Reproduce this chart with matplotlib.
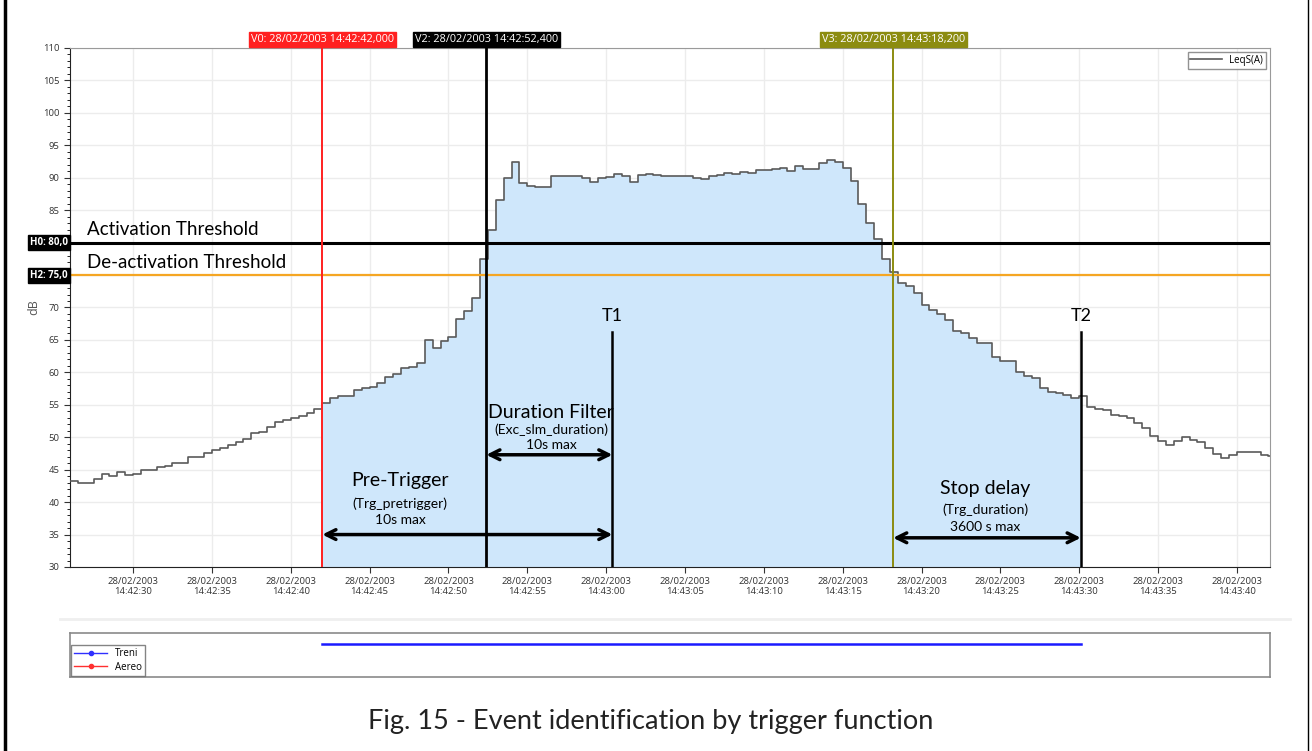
import numpy as np
import matplotlib

matplotlib.use('Agg')
import matplotlib.pyplot as plt
from matplotlib.transforms import blended_transform_factory
from matplotlib.lines import Line2D

plt.rcParams['font.family'] = ['Open Sans', 'DejaVu Sans']

# LeqS(A) samples, 0.5 s apart, starting 14:42:26.0 (seconds after 14:42:00)
t_start = 26.0
t_step = 0.5
leq = [
    43.2, 43.0, 43.0, 43.6, 44.3, 44.0, 44.6, 44.2, 44.4, 45.0, 45.0, 45.4,
    45.6, 46.0, 46.1, 46.9, 47.0, 47.5, 48.0, 48.3, 48.8, 49.3, 49.7, 50.6,
    50.8, 51.6, 52.3, 52.6, 52.9, 53.3, 53.8, 54.4, 55.3, 56.0,
    56.3, 56.4, 57.3, 57.6, 57.8, 58.3, 59.3, 59.8, 60.6, 60.8, 61.5, 65.0,
    63.8, 64.8, 65.4, 68.2, 69.5, 71.5, 77.5, 82.0, 86.5, 90.0, 92.5, 89.2,
    88.7, 88.5, 88.6, 90.2, 90.3, 90.2, 90.3, 90.0, 89.4, 90.0, 90.1, 90.6,
    90.3, 89.4, 90.5, 90.6, 90.4, 90.3, 90.2, 90.2, 90.2, 90.0, 89.8, 90.3,
    90.5, 90.7, 90.6, 90.9, 90.8, 91.2, 91.2, 91.4, 91.5, 91.0, 91.8, 91.3,
    91.4, 92.3, 92.8, 92.4, 91.5, 89.5, 86.0, 83.0, 80.5, 77.5,
    75.5, 73.8, 73.3, 72.2, 70.4, 69.6, 69.0, 68.1, 66.4, 66.0, 65.3, 64.5,
    64.5, 62.4, 61.8, 61.7, 60.1, 59.5, 59.1, 57.6, 56.9, 56.8, 56.5, 56.1,
    56.4, 54.7, 54.3, 54.2, 53.5, 53.2, 52.9, 52.2, 51.5, 50.2, 49.4, 48.8,
    49.4, 50.1, 49.5, 49.3, 48.3, 47.4, 46.8, 47.2, 47.8, 47.7, 47.8, 47.2,
    47.1,
]

# cursors (seconds after 14:42:00)
v0, v2, v3 = 42.0, 52.4, 78.2
t1, t2 = 60.4, 90.1
h0, h2 = 80.0, 75.0
x_range = (26.0, 102.1)
y_range = (30, 110)
x_ticks = [30, 35, 40, 45, 50, 55, 60, 65, 70, 75, 80, 85, 90, 95, 100]
y_ticks = [30, 35, 40, 45, 50, 55, 60, 65, 70, 75, 80, 85, 90, 95, 100, 105, 110]
treni_span = (v0, t2)
treni_level = 0.75

t = t_start + t_step * np.arange(len(leq))
leq = np.array(leq)


def clock(s):
    m = 42 + int(s) // 60
    return f"28/02/2003\n14:{m:02d}:{int(s) % 60:02d}"


fig = plt.figure(figsize=(13.12, 7.51), dpi=100)
ax = fig.add_axes([70 / 1312, 1 - 567 / 751, 1200 / 1312, 519 / 751])

# shaded event window
sel = (t >= v0) & (t < t2)
xf = np.append(t[sel], t2)
yf = np.append(leq[sel], leq[sel][-1])
ax.fill_between(xf, yf, y_range[0], step='post', color='#cfe7fb', lw=0, zorder=1)

ax.step(np.append(t, t[-1] + t_step), np.append(leq, leq[-1]), where='post',
        color='#5a5a5a', lw=1.2, zorder=3, label='LeqS(A)')

ax.set_xlim(*x_range)
ax.set_ylim(*y_range)
ax.set_xticks(x_ticks)
ax.set_xticklabels([clock(s) for s in x_ticks])
ax.set_yticks(y_ticks)
# threshold tags sit on top of the 75 / 80 labels
ax.set_yticklabels(['' if v in (h0, h2) else str(v) for v in y_ticks])
ax.set_yticks(np.arange(30, 111, 1), minor=True)
ax.tick_params(axis='both', labelsize=6.8, colors='#333333', length=4)
ax.tick_params(axis='y', which='minor', length=2)
ax.tick_params(axis='x', pad=3)
ax.grid(True, color='#ececec', lw=1, zorder=0)
ax.set_axisbelow(True)
for side in ['top', 'right']:
    ax.spines[side].set_color('#9a9a9a')
for side in ['left', 'bottom']:
    ax.spines[side].set_color('#222222')
ax.set_ylabel('dB', fontsize=9, color='#555555', labelpad=2)

# horizontal thresholds
ax.axhline(h0, color='black', lw=2.2, zorder=4)
ax.axhline(h2, color='#f5a623', lw=1.6, zorder=4)
ybox = blended_transform_factory(ax.transAxes, ax.transData)
for val, name in [(h0, 'H0'), (h2, 'H2')]:
    ax.text(-0.002, val, f"{name}: {val:.1f}".replace('.', ','), transform=ybox,
            ha='right', va='center', fontsize=7, color='white', weight='bold',
            bbox=dict(boxstyle='square,pad=0.2', fc='black', ec='black'), zorder=7)

# vertical cursors
xbox = blended_transform_factory(ax.transData, ax.transAxes)
cursors = [(v0, 'V0', '#ff2020', '14:42:42,000', 1.4),
           (v2, 'V2', 'black', '14:42:52,400', 2.0),
           (v3, 'V3', '#8c8c10', '14:43:18,200', 1.4)]
for x, name, c, stamp, lw in cursors:
    ax.axvline(x, color=c, lw=lw, zorder=5)
    ax.text(x, 1.005, f"{name}: 28/02/2003 {stamp}", transform=xbox,
            ha='center', va='bottom', fontsize=7.8, color='white',
            bbox=dict(boxstyle='square,pad=0.18', fc=c, ec=c), clip_on=False)

# T1 / T2 markers
for x, name in [(t1, 'T1'), (t2, 'T2')]:
    ax.plot([x, x], [y_range[0], 66.3], color='black', lw=1.8, zorder=5)
    ax.text(x, 67.4, name, ha='center', va='bottom', fontsize=13, family='Lato')

ax.text(27.08, 80.7, 'Activation Threshold', fontsize=13.5, family='Lato', va='bottom')
ax.text(27.08, 75.6, 'De-activation Threshold', fontsize=13.5, family='Lato', va='bottom')

arrow = dict(arrowstyle='<->,head_length=0.7,head_width=0.35', lw=2.5, color='black',
             shrinkA=0, shrinkB=0)
ax.annotate('', xy=(v0, 35.0), xytext=(t1, 35.0), arrowprops=arrow, zorder=6)
ax.annotate('', xy=(v2, 47.3), xytext=(t1, 47.3), arrowprops=arrow, zorder=6)
ax.annotate('', xy=(v3, 34.5), xytext=(t2, 34.5), arrowprops=arrow, zorder=6)

spans = [
    (46.95, 'Pre-Trigger', '(Trg_pretrigger)', '10s max', (43.4, 39.75, 37.3)),
    (56.5, 'Duration Filter', '(Exc_slm_duration)', '10s max', (53.75, 51.15, 48.85)),
    (84.05, 'Stop delay', '(Trg_duration)', '3600 s max', (42.05, 38.8, 36.2)),
]
for x, title, param, limit, (ya, yb, yc) in spans:
    ax.text(x, ya, title, ha='center', va='center', fontsize=14, family='Lato', zorder=7)
    ax.text(x, yb, param, ha='center', va='center', fontsize=10, family='Lato', zorder=7)
    ax.text(x, yc, limit, ha='center', va='center', fontsize=10, family='Lato', zorder=7)

leg = ax.legend(loc='upper right', fontsize=7, frameon=True, fancybox=False,
                edgecolor='#777777', handlelength=3.2, borderpad=0.3,
                borderaxespad=0.4)
leg.get_frame().set_linewidth(1.0)

# event panel below
ax2 = fig.add_axes([70 / 1312, 1 - 677 / 751, 1200 / 1312, 44 / 751])
ax2.set_xlim(*x_range)
ax2.set_ylim(0, 1)
ax2.plot(treni_span, [treni_level, treni_level], color='#1a1aff', lw=1.8)
ax2.set_xticks([])
ax2.set_yticks([])
for s in ax2.spines.values():
    s.set_color('#8a8a8a')
    s.set_linewidth(1.2)
handles = [Line2D([], [], color='#3030ff', marker='o', markersize=3, lw=1, label='Treni'),
           Line2D([], [], color='#ff3030', marker='o', markersize=3, lw=1, label='Aereo')]
leg2 = ax2.legend(handles=handles, loc='lower left', fontsize=7, frameon=True,
                  fancybox=False, edgecolor='#666666', handlelength=3.4,
                  borderpad=0.3, labelspacing=0.25, borderaxespad=0.15)

# separator and outer frame
fig.add_artist(Line2D([60 / 1312, 1290 / 1312], [1 - 619 / 751] * 2, color='#efefef', lw=2))
fig.add_artist(Line2D([5 / 1312, 5 / 1312], [0, 1], color='black', lw=2.5))
fig.add_artist(Line2D([1308 / 1312, 1308 / 1312], [0, 1], color='black', lw=1.0))

fig.text(651 / 1312, 1 - 722 / 751, 'Fig. 15 - Event identification by trigger function',
         ha='center', va='center', fontsize=19.5, family='Lato', color='#222222')

fig.savefig('out.png', dpi=100)
